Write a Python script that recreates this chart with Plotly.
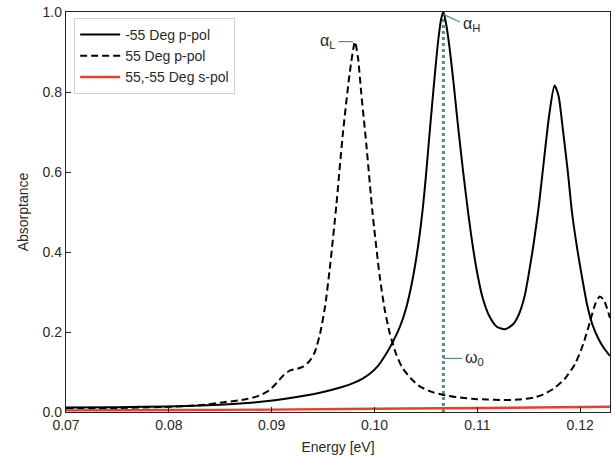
import plotly.graph_objects as go

# ---- data ----
solid_x = [0.0700, 0.0750, 0.0800, 0.0850, 0.0880, 0.0905, 0.0930, 0.0950, 0.0965, 0.0978,
           0.0988, 0.0996, 0.1003, 0.1010, 0.1018, 0.1025, 0.1031, 0.1036, 0.1040, 0.1044,
           0.1047, 0.1050, 0.1054, 0.1058, 0.1062, 0.1065, 0.1067, 0.1070, 0.1073, 0.1077,
           0.1081, 0.1086, 0.1090, 0.1094, 0.1099, 0.1105, 0.1112, 0.1119, 0.1127, 0.1135,
           0.1141, 0.1146, 0.1150, 0.1155, 0.1160, 0.1165, 0.1170, 0.1175, 0.1179, 0.1183,
           0.1188, 0.1192, 0.1197, 0.1202, 0.1207, 0.1212, 0.1218, 0.1223, 0.1229]
solid_y = [0.011, 0.012, 0.014, 0.018, 0.023, 0.030, 0.040, 0.050, 0.060, 0.071,
           0.083, 0.097, 0.114, 0.140, 0.176, 0.215, 0.262, 0.318, 0.375, 0.445,
           0.510, 0.590, 0.710, 0.825, 0.930, 0.985, 1.000, 0.965, 0.910, 0.820,
           0.720, 0.605, 0.520, 0.442, 0.360, 0.287, 0.238, 0.213, 0.207, 0.220,
           0.248, 0.290, 0.345, 0.425, 0.520, 0.635, 0.745, 0.816, 0.790, 0.710,
           0.600, 0.500, 0.410, 0.334, 0.265, 0.218, 0.182, 0.160, 0.140]

dashed_x = [0.0700, 0.0750, 0.0800, 0.0830, 0.0856, 0.0875, 0.0888, 0.0898, 0.0905, 0.0912,
            0.0918, 0.0925, 0.0931, 0.0937, 0.0942, 0.0947, 0.0952, 0.0957, 0.0963, 0.0969,
            0.0976, 0.0981, 0.0984, 0.0987, 0.0992, 0.0998, 0.1005, 0.1010, 0.1015, 0.1021,
            0.1027, 0.1035, 0.1044, 0.1055, 0.1066, 0.1080, 0.1095, 0.1110, 0.1125, 0.1140,
            0.1155, 0.1165, 0.1175, 0.1185, 0.1195, 0.1203, 0.1210, 0.1215, 0.1219, 0.1223,
            0.1229]
dashed_y = [0.009, 0.010, 0.013, 0.017, 0.025, 0.032, 0.041, 0.055, 0.073, 0.093,
            0.104, 0.108, 0.114, 0.128, 0.150, 0.195, 0.265, 0.370, 0.520, 0.690,
            0.850, 0.926, 0.885, 0.800, 0.670, 0.500, 0.340, 0.255, 0.195, 0.145,
            0.111, 0.085, 0.064, 0.051, 0.043, 0.037, 0.033, 0.031, 0.030, 0.031,
            0.036, 0.045, 0.060, 0.083, 0.120, 0.170, 0.230, 0.272, 0.289, 0.280,
            0.235]

red_x = [0.0700, 0.0800, 0.0900, 0.1000, 0.1100, 0.1229]
red_y = [0.004, 0.005, 0.006, 0.008, 0.010, 0.013]

series_names = ["-55 Deg p-pol", "55 Deg p-pol", "55,-55 Deg s-pol"]

omega0 = 0.1067
omega0_y = [0.0, 1.0]
alpha_L = (0.0981, 0.926)
alpha_H = (0.1067, 1.0)
omega_label_y = 0.134

x_ticks = [0.07, 0.08, 0.09, 0.10, 0.11, 0.12]
y_ticks = [0.0, 0.2, 0.4, 0.6, 0.8, 1.0]
x_range = [0.07, 0.1229]
y_range = [0.0, 1.0]

teal = "#4f8d99"
txt = "#2a2a2a"
FONT = "Liberation Sans, Arial, sans-serif"

fig = go.Figure()

# dotted omega_0 line
fig.add_trace(go.Scatter(x=[omega0, omega0], y=omega0_y, mode="lines",
                         line=dict(color=teal, width=3, dash="dot"),
                         showlegend=False, hoverinfo="skip"))

fig.add_trace(go.Scatter(x=solid_x, y=solid_y, mode="lines", name=series_names[0],
                         line=dict(color="black", width=2, shape="spline", smoothing=0.6)))
fig.add_trace(go.Scatter(x=dashed_x, y=dashed_y, mode="lines", name=series_names[1],
                         line=dict(color="black", width=2, dash="7px,4px", shape="spline", smoothing=0.6)))
fig.add_trace(go.Scatter(x=red_x, y=red_y, mode="lines", name=series_names[2],
                         line=dict(color="#e8402a", width=2.4, shape="spline")))

# leader lines
lead_w = 1.2
fig.add_trace(go.Scatter(x=[alpha_L[0] - 0.0016, alpha_L[0] - 0.0002], y=[alpha_L[1], alpha_L[1]],
                         mode="lines", line=dict(color=teal, width=lead_w),
                         showlegend=False, hoverinfo="skip"))
fig.add_trace(go.Scatter(x=[alpha_H[0], alpha_H[0] + 0.0016], y=[alpha_H[1] - 0.006, alpha_H[1] - 0.025],
                         mode="lines", line=dict(color=teal, width=lead_w),
                         showlegend=False, hoverinfo="skip"))
fig.add_trace(go.Scatter(x=[omega0, omega0 + 0.0018], y=[omega_label_y, omega_label_y],
                         mode="lines", line=dict(color=teal, width=lead_w),
                         showlegend=False, hoverinfo="skip"))

ann_font = dict(family=FONT, size=16, color=txt)
fig.add_annotation(x=alpha_L[0] - 0.0017, y=alpha_L[1], text="α<sub>L</sub>", showarrow=False,
                   xanchor="right", yanchor="middle", font=ann_font, xref="x", yref="y")
fig.add_annotation(x=alpha_H[0] + 0.0017, y=alpha_H[1] - 0.03, text="α<sub>H</sub>", showarrow=False,
                   xanchor="left", yanchor="middle", font=ann_font, xref="x", yref="y")
fig.add_annotation(x=omega0 + 0.0019, y=omega_label_y, text="ω<sub>0</sub>", showarrow=False,
                   xanchor="left", yanchor="middle", font=ann_font, xref="x", yref="y")

axis_common = dict(showline=True, linecolor="#222", linewidth=1.3, mirror=True,
                   ticks="inside", ticklen=5, tickwidth=1, tickcolor="#222",
                   showgrid=False, zeroline=False, ticklabeloverflow="allow",
                   tickfont=dict(family=FONT, size=14, color=txt))

fig.update_xaxes(range=x_range, tickvals=x_ticks, ticktext=[f"{v:.2f}" for v in x_ticks],
                 title=dict(text="Energy [eV]", font=dict(family=FONT, size=14, color=txt), standoff=10),
                 **axis_common)
fig.update_yaxes(range=y_range, tickvals=y_ticks, ticktext=[f"{v:.1f}" for v in y_ticks],
                 title=dict(text="Absorptance", font=dict(family=FONT, size=14, color=txt), standoff=10),
                 **axis_common)

fig.update_layout(
    width=615, height=460,
    margin=dict(l=66, r=4, t=8, b=48),
    plot_bgcolor="white", paper_bgcolor="white",
    font=dict(family=FONT, size=14, color=txt),
    legend=dict(x=0.015, y=0.985, xanchor="left", yanchor="top",
                bgcolor="white", bordercolor="#d0d0d0", borderwidth=1,
                font=dict(family=FONT, size=14, color=txt), itemwidth=40,
                tracegroupgap=0),
)

fig.write_html("out.html")
